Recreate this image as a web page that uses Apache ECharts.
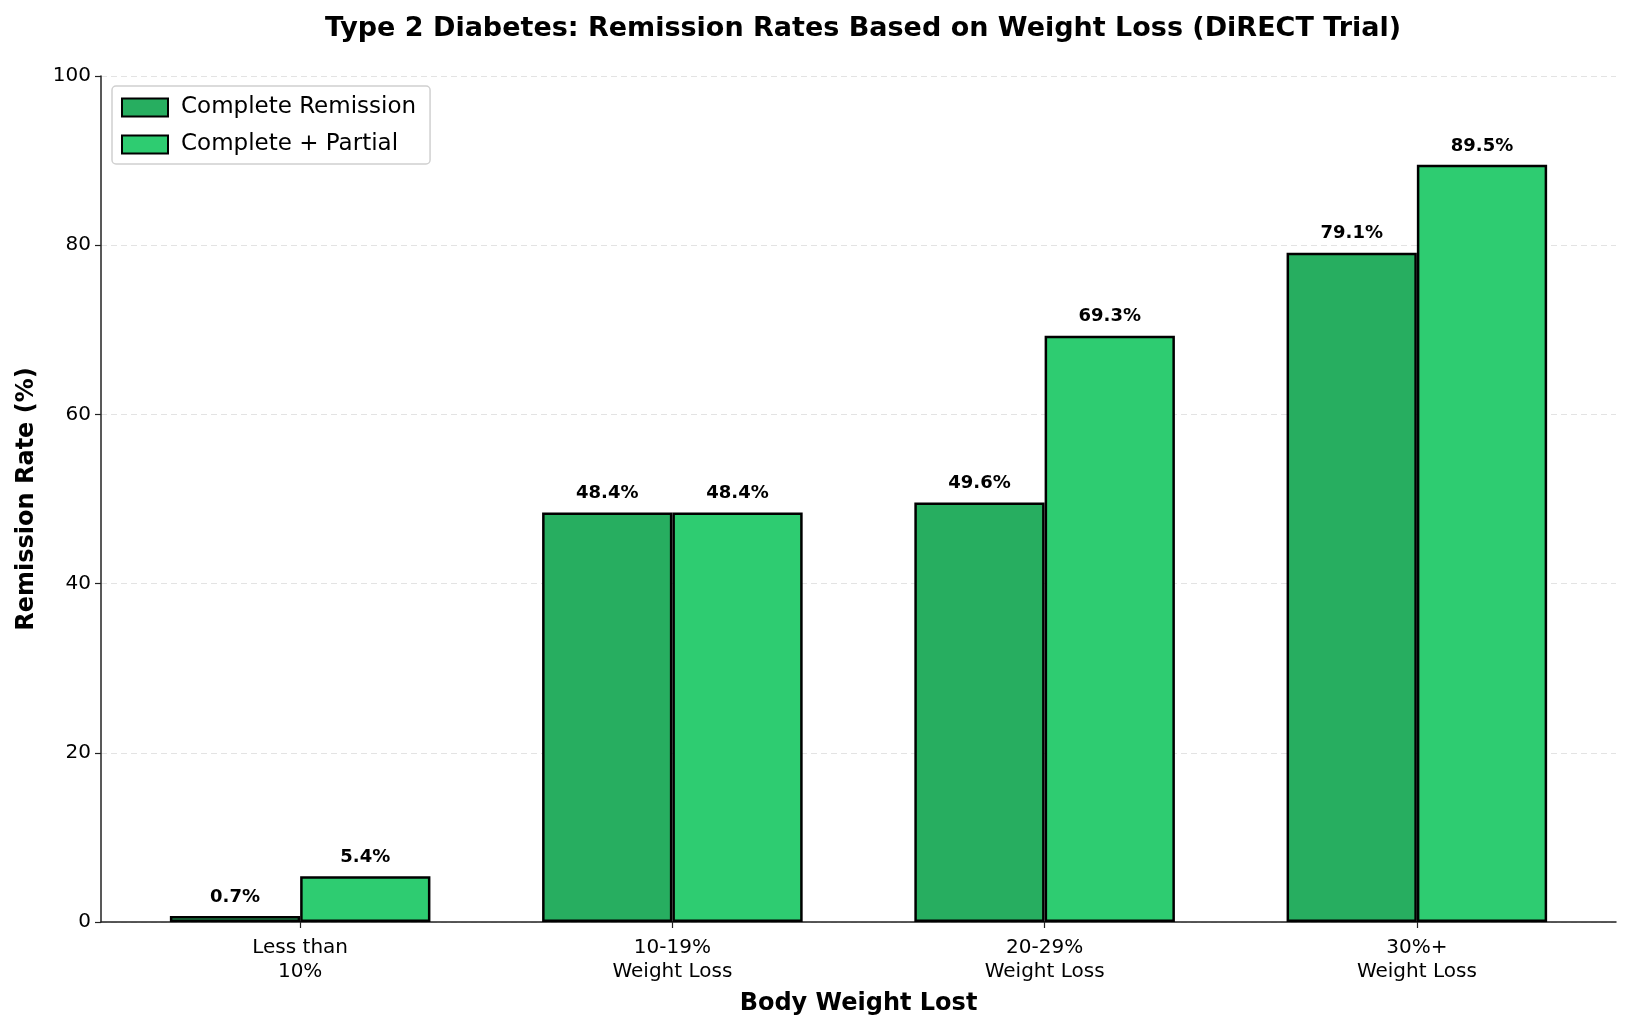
<!DOCTYPE html>
<html lang="en">
<head>
    <meta charset="UTF-8">
    <title>DiRECT Trial</title>
    <style>
        html, body { margin: 0; padding: 0; background: #fff; }
        #main { width: 1632px; height: 1028px; }
    </style>
</head>
<body>
<div id="main"></div>
<script src="https://cdn.jsdelivr.net/npm/echarts@6/dist/echarts.min.js"></script>
<script>
    // data
    const categories = ['Less than\n10%', '10-19%\nWeight Loss', '20-29%\nWeight Loss', '30%+\nWeight Loss'];
    const completeRemission = [0.7, 48.4, 49.6, 79.1];
    const completePartial = [5.4, 48.4, 69.3, 89.5];
    const yTicks = [0, 20, 40, 60, 80, 100];

    const font = 'DejaVu Sans';
    const myChart = echarts.init(document.getElementById('main'));

    // x positions 0..3 on a value axis, so the padding matches the original
    const toPoints = arr => arr.map((v, i) => [i, v]);

    const labelCfg = {
        show: true,
        position: 'top',
        distance: 10,
        formatter: p => p.value[1].toFixed(1) + '%',
        fontFamily: font,
        fontWeight: 'bold',
        fontSize: 18,
        color: '#000'
    };

    const option = {
        animation: false,
        textStyle: { fontFamily: font },
        title: {
            text: 'Type 2 Diabetes: Remission Rates Based on Weight Loss (DiRECT Trial)',
            left: 858,
            textAlign: 'center',
            top: 10,
            textStyle: { fontFamily: font, fontWeight: 'bold', fontSize: 27, color: '#000' }
        },
        legend: {
            orient: 'vertical',
            left: 112,
            top: 86,
            padding: [10, 14, 8, 9],
            itemWidth: 46,
            itemHeight: 18,
            itemGap: 14,
            icon: 'rect',
            borderColor: '#d0d0d0',
            borderWidth: 1.5,
            borderRadius: 4,
            backgroundColor: '#fff',
            textStyle: { fontFamily: font, fontSize: 23, color: '#000', padding: [0, 0, 0, 8] },
            data: ['Complete Remission', 'Complete + Partial']
        },
        grid: { left: 101, right: 16, top: 76, bottom: 106 },
        xAxis: {
            type: 'value',
            min: -0.535,
            max: 3.535,
            name: 'Body Weight Lost',
            nameLocation: 'middle',
            nameGap: 70,
            nameTextStyle: { fontFamily: font, fontWeight: 'bold', fontSize: 24, color: '#000' },
            axisLine: { show: true, onZero: false, lineStyle: { color: '#222', width: 1.5 } },
            axisTick: { show: true, customValues: [0, 1, 2, 3], length: 6, lineStyle: { color: '#222', width: 1.2 } },
            axisLabel: {
                customValues: [0, 1, 2, 3],
                formatter: v => categories[Math.round(v)],
                fontFamily: font, fontSize: 20, color: '#000', lineHeight: 24, margin: 14
            },
            splitLine: { show: false }
        },
        yAxis: {
            type: 'value',
            min: yTicks[0],
            max: yTicks[yTicks.length - 1],
            interval: 20,
            name: 'Remission Rate (%)',
            nameLocation: 'middle',
            nameGap: 62,
            nameTextStyle: { fontFamily: font, fontWeight: 'bold', fontSize: 24, color: '#000' },
            axisLine: { show: true, onZero: false, lineStyle: { color: '#222', width: 1.5 } },
            axisTick: { show: true, length: 6, lineStyle: { color: '#222', width: 1.2 } },
            axisLabel: { fontFamily: font, fontSize: 20, color: '#000', margin: 10 },
            splitLine: { show: true, lineStyle: { color: '#e3e3e3', type: [6, 4], width: 1 } }
        },
        series: [
            {
                name: 'Complete Remission',
                type: 'bar',
                barWidth: '35%',
                barGap: '0%',
                data: toPoints(completeRemission),
                itemStyle: { color: '#27ae60', borderColor: '#000', borderWidth: 2.5 },
                label: labelCfg
            },
            {
                name: 'Complete + Partial',
                type: 'bar',
                barWidth: '35%',
                barGap: '0%',
                data: toPoints(completePartial),
                itemStyle: { color: '#2ecc71', borderColor: '#000', borderWidth: 2.5 },
                label: labelCfg
            }
        ]
    };
    myChart.setOption(option);
</script>
</body>
</html>
